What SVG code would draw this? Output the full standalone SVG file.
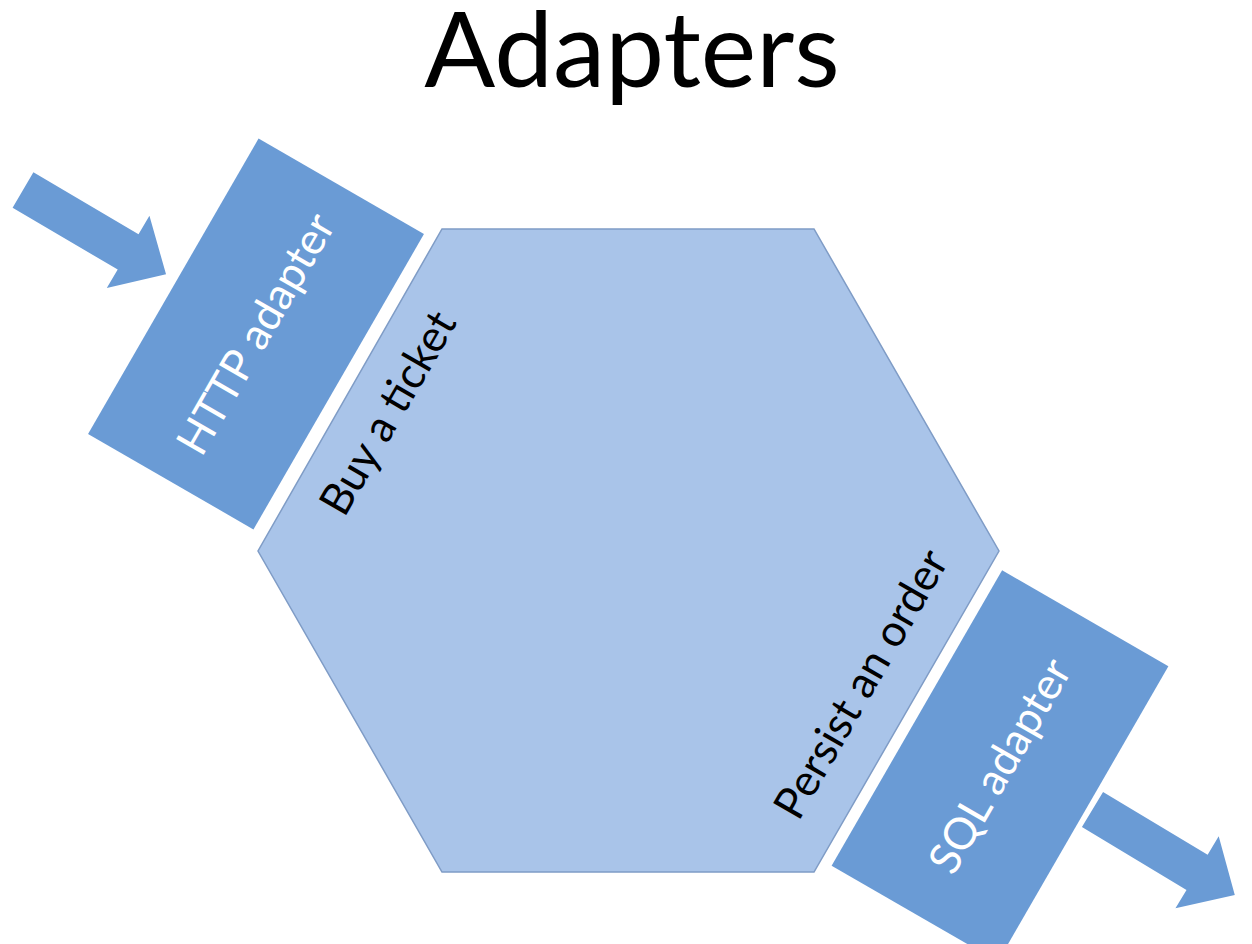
<svg xmlns="http://www.w3.org/2000/svg" width="1252" height="944" viewBox="0 0 1252 944">
<style>
text{font-family:Lato,"Open Sans","Liberation Sans",sans-serif}
.title{font-size:105px;fill:#000}
.adapter{fill:#6a9bd5}
.hex{fill:#a9c4e9;stroke:#7f9cc6;stroke-width:1.5}
.wlabel{font-size:44px;fill:#fff;text-anchor:middle}
.blabel{font-size:44px;fill:#000;text-anchor:middle}
.arrow{fill:#6a9bd5}
</style>
<defs>
<path id="arr" d="M0,-20.5 L122,-20.5 L122,-42 L166,0 L122,42 L122,20.5 L0,20.5 Z"/>
</defs>
<rect width="1252" height="944" fill="#fff"/>
<text class="title" x="632" y="87" text-anchor="middle">Adapters</text>
<g id="core">
<polygon class="hex" points="442,229 814,229 999,551 814,872 442,872 258,551"/>
<text class="blabel" transform="translate(388,413) rotate(-60)" x="0" y="15">Buy a ticket</text>
<text class="blabel" transform="translate(861,684) rotate(-60)" x="0" y="15">Persist an order</text>
</g>
<g id="http-adapter" transform="translate(256,334) rotate(-60)">
<rect class="adapter" x="-170.5" y="-95.5" width="341" height="191"/>
<text class="wlabel" x="0" y="15">HTTP adapter</text>
</g>
<g id="sql-adapter" transform="translate(1000,766) rotate(-60)">
<rect class="adapter" x="-170.5" y="-96" width="341" height="192"/>
<text class="wlabel" x="0" y="15">SQL adapter</text>
</g>
<g id="connectors">
<use href="#arr" class="arrow" transform="translate(23,190) rotate(30.5)"/>
<use href="#arr" class="arrow" transform="translate(1092.5,809.5) rotate(31)"/>
</g>
</svg>
